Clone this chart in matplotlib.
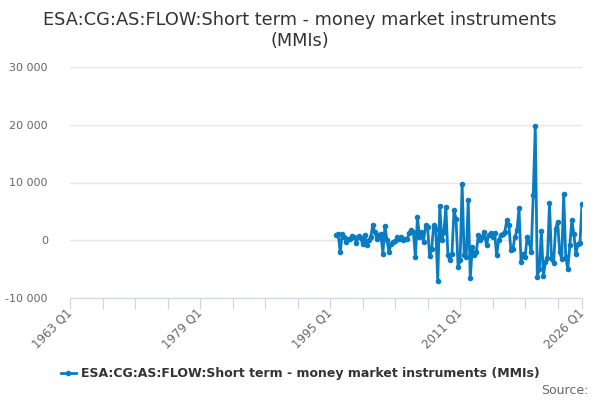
import numpy as np
import pandas as pd
import matplotlib
matplotlib.use("Agg")
import matplotlib.pyplot as plt
from matplotlib.lines import Line2D

# quarterly flows, 1995 Q4 onwards
start_quarter = "1995Q4"
values = [
    900, 1000, -2100, 1150, 500, -300, 300, 200, 800, 600,
    -400, 700, 400, -600, 900, -800, 0, 500, 2600, 1450,
    300, 900, 1000, -2300, 2400, 0, -2000, -600, -300, -200,
    500, 200, 600, 100, 300, 300, 1200, 1800, 1500, -2900,
    4000, 600, 1400, -300, 2600, 2300, -2800, -1500, 2600, 2000,
    -7000, 6000, 0, 1400, 5800, -2600, -3500, -2300, 5200, 3700,
    -4600, -3500, 9800, -2600, -2900, 6900, -6600, -1200, -2600, -2000,
    900, 0, 600, 1400, -900, 900, 1200, 600, 1200, -2600,
    0, 900, 1150, 1450, 3500, 2600, -1700, -1450, 600, 1700,
    5500, -3800, -2300, -2900, 600, -300, -2000, 7800, 19800, -6300,
    -5000, 1600, -6200, -3700, -3000, 6400, -3200, -4000, 2000, 3200,
    -2000, -3300, 8000, -2900, -5000, -900, 3500, 1100, -2300, -700,
    -500, 6300,
]
series_name = "ESA:CG:AS:FLOW:Short term - money market instruments (MMIs)"
title = "ESA:CG:AS:FLOW:Short term - money market instruments\n(MMIs)"

tick_years = list(range(1963, 2024, 4)) + [2026]
label_years = [1963, 1979, 1995, 2011, 2026]
y_ticks = [-10000, 0, 10000, 20000, 30000]

periods = pd.period_range(start_quarter, periods=len(values), freq="Q")
x = np.array([p.year + (p.quarter - 1) / 4 for p in periods])

color = "#0a7dc2"

fig = plt.figure(figsize=(6, 4), dpi=100)
ax = fig.add_axes([70 / 600, 1 - 298 / 400, 512 / 600, 231 / 400])

ax.plot(x, values, color=color, lw=2, marker="o", ms=3, zorder=3)

ax.set_xlim(1963, 2026)
ax.set_ylim(-10000, 30000)

ax.set_yticks(y_ticks)
ax.set_yticklabels([f"{v:,}".replace(",", " ") for v in y_ticks])
ax.grid(axis="y", color="#e6e6e6", lw=1)
ax.set_axisbelow(True)

ax.set_xticks(tick_years)
ax.set_xticklabels([f"{y} Q1" if y in label_years else "" for y in tick_years],
                   rotation=45, ha="right", va="center", rotation_mode="anchor")

for s in ["top", "right", "left"]:
    ax.spines[s].set_visible(False)
ax.spines["bottom"].set_color("#ccd6eb")
ax.tick_params(axis="x", length=8, color="#ccd6eb", colors="#666666", labelsize=8.5, pad=1)
ax.tick_params(axis="y", length=0, colors="#666666", labelsize=8, pad=16)

fig.text(0.5, 0.972, title, ha="center", va="top", fontsize=12.8,
         color="#333333", linespacing=1.2)

handle = Line2D([], [], color=color, lw=2, marker="o", ms=3)
leg = fig.legend([handle], [series_name], loc="center", bbox_to_anchor=(0.5, 1 - 374 / 400),
                 frameon=False, handlelength=1.2, handletextpad=0.4,
                 prop={"weight": "bold", "size": 9})
for t in leg.get_texts():
    t.set_color("#333333")

fig.text(588 / 600, 1 - 391 / 400, "Source:", ha="right", va="center",
         fontsize=9, color="#666666")

fig.savefig("out.png", dpi=100)
